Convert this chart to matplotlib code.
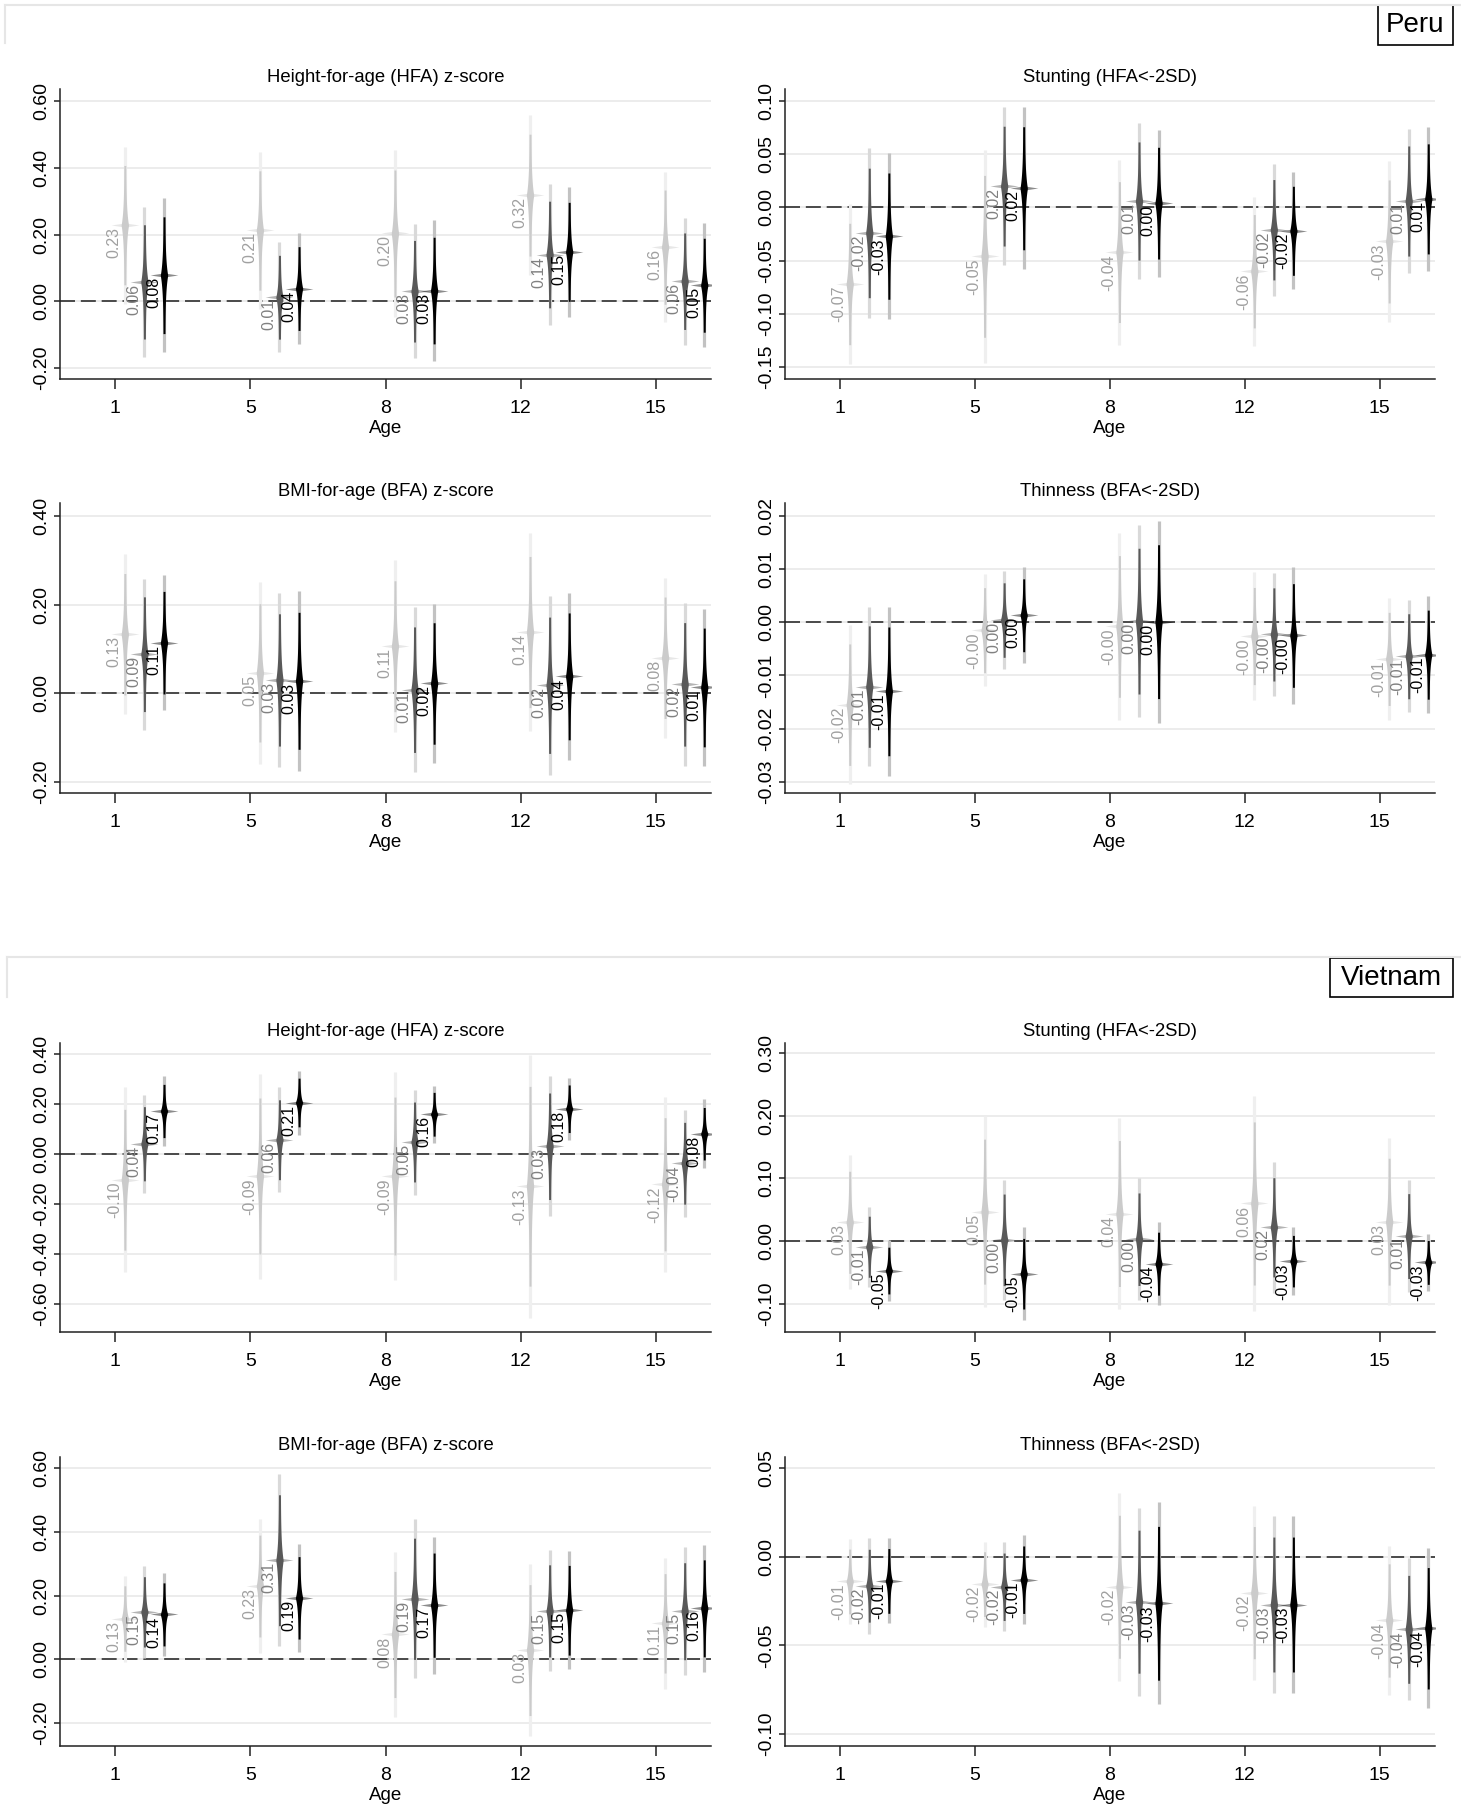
import numpy as np
import matplotlib.pyplot as plt
from matplotlib.lines import Line2D
from matplotlib.patches import Rectangle
from matplotlib.path import Path
from matplotlib.transforms import offset_copy

plt.rcParams['font.family'] = ['Liberation Sans', 'DejaVu Sans']

W, H = 1461, 1810
ages = ['1', '5', '8', '12', '15']

# point estimates and outer (99%) half-widths, rows = light / grey / black series
peru_hfa_est = [[0.228, 0.212, 0.203, 0.318, 0.162],
                [0.058, 0.012, 0.030, 0.140, 0.060],
                [0.078, 0.038, 0.032, 0.148, 0.048]]
peru_hfa_ci = [[0.235, 0.235, 0.250, 0.240, 0.225],
               [0.225, 0.165, 0.200, 0.210, 0.190],
               [0.230, 0.165, 0.210, 0.195, 0.185]]

peru_stunt_est = [[-0.072, -0.046, -0.042, -0.060, -0.032],
                  [-0.024, 0.020, 0.006, -0.021, 0.006],
                  [-0.027, 0.018, 0.004, -0.022, 0.008]]
peru_stunt_ci = [[0.075, 0.100, 0.087, 0.070, 0.076],
                 [0.080, 0.074, 0.073, 0.062, 0.068],
                 [0.078, 0.076, 0.069, 0.055, 0.068]]

peru_bfa_est = [[0.133, 0.046, 0.106, 0.138, 0.080],
                [0.088, 0.030, 0.008, 0.018, 0.020],
                [0.114, 0.028, 0.022, 0.038, 0.013]]
peru_bfa_ci = [[0.180, 0.205, 0.194, 0.224, 0.180],
               [0.170, 0.196, 0.186, 0.202, 0.183],
               [0.152, 0.203, 0.180, 0.188, 0.176]]

peru_thin_est = [[-0.0155, -0.0015, -0.0008, -0.0026, -0.0069],
                 [-0.0121, 0.0004, 0.0002, -0.0023, -0.0064],
                 [-0.0130, 0.0013, 0.0001, -0.0025, -0.0061]]
peru_thin_ci = [[0.0150, 0.0105, 0.0175, 0.0120, 0.0115],
                [0.0150, 0.0092, 0.0180, 0.0115, 0.0105],
                [0.0159, 0.0090, 0.0190, 0.0128, 0.0110]]

viet_hfa_est = [[-0.103, -0.088, -0.088, -0.129, -0.121],
                [0.041, 0.057, 0.048, 0.031, -0.037],
                [0.172, 0.206, 0.159, 0.181, 0.081]]
viet_hfa_ci = [[0.370, 0.410, 0.415, 0.525, 0.350],
               [0.195, 0.210, 0.210, 0.280, 0.215],
               [0.140, 0.128, 0.115, 0.125, 0.138]]

viet_stunt_est = [[0.030, 0.047, 0.044, 0.060, 0.031],
                  [-0.009, 0.002, 0.003, 0.022, 0.008],
                  [-0.047, -0.052, -0.036, -0.032, -0.034]]
viet_stunt_ci = [[0.107, 0.152, 0.153, 0.171, 0.133],
                 [0.064, 0.096, 0.097, 0.104, 0.089],
                 [0.049, 0.074, 0.066, 0.054, 0.046]]

viet_bfa_est = [[0.128, 0.230, 0.078, 0.029, 0.113],
                [0.149, 0.311, 0.190, 0.152, 0.151],
                [0.141, 0.193, 0.170, 0.154, 0.160]]
viet_bfa_ci = [[0.135, 0.210, 0.260, 0.270, 0.205],
               [0.145, 0.270, 0.250, 0.190, 0.200],
               [0.130, 0.170, 0.215, 0.185, 0.200]]

viet_thin_est = [[-0.0140, -0.0155, -0.0170, -0.0203, -0.0360],
                 [-0.0164, -0.0170, -0.0254, -0.0270, -0.0410],
                 [-0.0137, -0.0130, -0.0263, -0.0270, -0.0404]]
viet_thin_ci = [[0.024, 0.024, 0.053, 0.049, 0.042],
                [0.027, 0.025, 0.053, 0.050, 0.040],
                [0.024, 0.025, 0.057, 0.050, 0.045]]

titles = ['Height-for-age (HFA) z-score', 'Stunting (HFA<-2SD)',
          'BMI-for-age (BFA) z-score', 'Thinness (BFA<-2SD)']

# series look: outer bar, inner bar, label colour
styles = [dict(outer='#efefef', inner='#cbcbcb', lab='#a0a0a0'),
          dict(outer='#d9d9d9', inner='#595959', lab='#808080'),
          dict(outer='#c2c2c2', inner='#000000', lab='#000000')]
offsets = [0.07, 0.215, 0.36]

star = Path([(-1, 0), (-0.2, 0.12), (0, 0.45), (0.2, 0.12), (1, 0),
             (0.2, -0.12), (0, -0.45), (-0.2, -0.12), (-1, 0)], closed=True)

fig = plt.figure(figsize=(W / 100, H / 100), dpi=100)

cols = [(60, 711), (785, 1435)]
rows = [(89, 379), (503, 793), (1043, 1332), (1457, 1746)]

panels = [
    (0, 0, peru_hfa_est, peru_hfa_ci, (-0.233, 0.636), [-0.2, 0, 0.2, 0.4, 0.6]),
    (0, 1, peru_stunt_est, peru_stunt_ci, (-0.1613, 0.1113), [-0.15, -0.1, -0.05, 0, 0.05, 0.1]),
    (1, 0, peru_bfa_est, peru_bfa_ci, (-0.225, 0.429), [-0.2, 0, 0.2, 0.4]),
    (1, 1, peru_thin_est, peru_thin_ci, (-0.0321, 0.0224), [-0.03, -0.02, -0.01, 0, 0.01, 0.02]),
    (2, 0, viet_hfa_est, viet_hfa_ci, (-0.712, 0.444), [-0.6, -0.4, -0.2, 0, 0.2, 0.4]),
    (2, 1, viet_stunt_est, viet_stunt_ci, (-0.145, 0.316), [-0.1, 0, 0.1, 0.2, 0.3]),
    (3, 0, viet_bfa_est, viet_bfa_ci, (-0.272, 0.635), [-0.2, 0, 0.2, 0.4, 0.6]),
    (3, 1, viet_thin_est, viet_thin_ci, (-0.1068, 0.0562), [-0.1, -0.05, 0, 0.05]),
]

for r, c, est, ci, ylim, yticks in panels:
    x0, x1 = cols[c]
    y0, y1 = rows[r]
    ax = fig.add_axes([x0 / W, 1 - y1 / H, (x1 - x0) / W, (y1 - y0) / H])
    ax.set_xlim(-0.41, 4.41)
    ax.set_ylim(*ylim)
    for s in ['top', 'right']:
        ax.spines[s].set_visible(False)
    for s in ['left', 'bottom']:
        ax.spines[s].set_color('#222222')
        ax.spines[s].set_linewidth(1.1)
    ax.set_yticks(yticks)
    ax.set_yticklabels(['%.2f' % t for t in yticks], rotation=90, va='center', fontsize=14)
    ax.set_xticks(range(5))
    ax.set_xticklabels(ages, fontsize=14)
    ax.tick_params(axis='y', length=4.5, width=1.1, color='#222222', pad=2.5)
    ax.tick_params(axis='x', length=7, width=1.1, color='#222222', pad=8)
    ax.yaxis.grid(True, color='#e9e9e9', lw=1.2)
    ax.set_axisbelow(True)
    ax.axhline(0, color='#2e2e2e', lw=1.2, ls=(0, (9, 3.5)), zorder=1.5)
    ax.set_title(titles[(r % 2) * 2 + c], fontsize=13.3, pad=5)
    ax.set_xlabel('Age', fontsize=13.5, labelpad=2)

    pxu = (x1 - x0) / 4.82  # pixels per category unit
    lab_tr = offset_copy(ax.transData, fig=fig, x=-3, y=-2, units='dots')
    for i in range(5):
        for k in range(3):
            st = styles[k]
            x = i + offsets[k]
            e = est[k][i]
            h = ci[k][i]
            se = h / 2.576
            inn = 1.96 * se
            ax.plot([x, x], [e - h, e + h], color=st['outer'], lw=2.3,
                    solid_capstyle='butt', zorder=2 + k)
            yy = np.linspace(e - inn, e + inn, 160)
            ww = (0.9 + 2.8 * np.exp(-1.8 * np.abs(yy - e) / se)) / pxu
            ax.fill_betweenx(yy, x - ww, x + ww, color=st['inner'], lw=0, zorder=2.2 + k)
            ax.plot(x, e, marker=star, ms=20, color=st['inner'], alpha=0.45,
                    mew=0, zorder=2.3 + k)
            ax.text(x, e, '%.2f' % e, rotation=90, ha='right', va='top',
                    transform=lab_tr, fontsize=11.5, color=st['lab'], zorder=10)

# section frames and country boxes
for (ytop, ybot, xl), name, (bx0, bx1, by0, by1) in [
        ((5, 43, 5), 'Peru', (1378, 1453, 5, 45)),
        ((957, 997, 7), 'Vietnam', (1330, 1453, 958, 997))]:
    fig.add_artist(Line2D([xl / W, 1], [1 - ytop / H, 1 - ytop / H],
                          transform=fig.transFigure, color='#e6e6e6', lw=1.5))
    fig.add_artist(Line2D([xl / W, xl / W], [1 - ytop / H, 1 - ybot / H],
                          transform=fig.transFigure, color='#e6e6e6', lw=1.5))
    fig.add_artist(Rectangle((bx0 / W, 1 - by1 / H), (bx1 - bx0) / W, (by1 - by0) / H,
                             transform=fig.transFigure, facecolor='white',
                             edgecolor='black', lw=1.2))
    fig.text((bx0 + bx1) / 2 / W, 1 - (by0 + by1) / 2 / H, name, ha='center',
             va='center', fontsize=20)

fig.savefig('out.png', dpi=100)
